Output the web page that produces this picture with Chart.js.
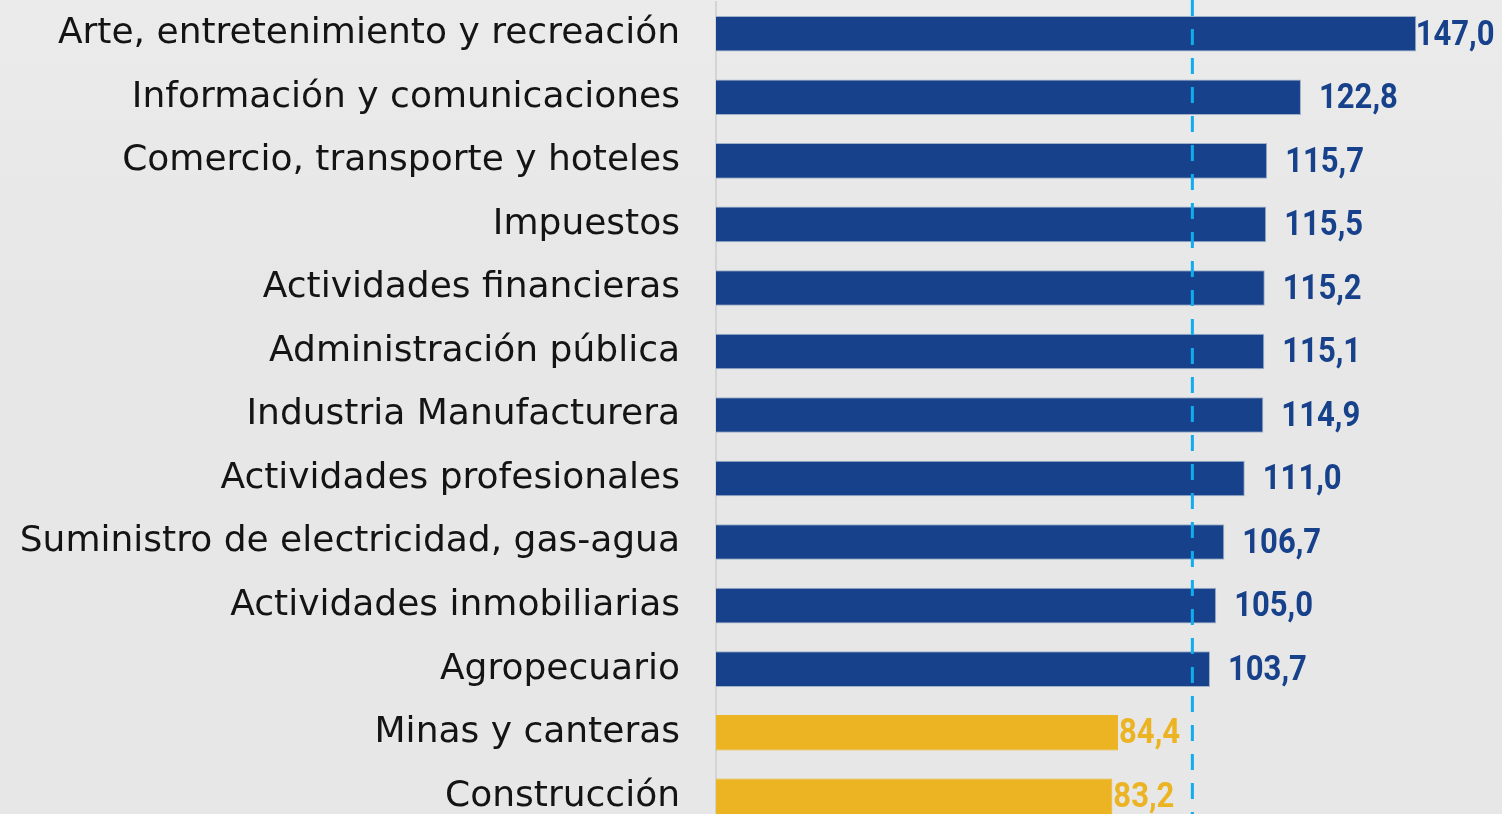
<!DOCTYPE html>
<html>
<head>
<meta charset="utf-8">
<script src="https://cdn.jsdelivr.net/npm/chart.js@4/dist/chart.umd.min.js"></script>
<style>
    html, body {
        margin: 0;
        padding: 0;
        width: 100%;
        height: 100%;
        overflow: hidden;
        background-color: #e7e7e7;
    }
    body {
        background: linear-gradient(to bottom, #ebebeb 0%, #e7e7e7 35%, #e7e7e7 100%);
    }
    .barChart {
        position: absolute;
        left: 0;
        top: 0;
        width: 1502px;
        height: 828px;
    }
</style>
</head>
<body>
<div class="barChart"><canvas id="chart"></canvas></div>
<script>
const sectors = [
    "Arte, entretenimiento y recreación",
    "Información y comunicaciones",
    "Comercio, transporte y hoteles",
    "Impuestos",
    "Actividades financieras",
    "Administración pública",
    "Industria Manufacturera",
    "Actividades profesionales",
    "Suministro de electricidad, gas-agua",
    "Actividades inmobiliarias",
    "Agropecuario",
    "Minas y canteras",
    "Construcción",
];
const values = [147.0, 122.8, 115.7, 115.5, 115.2, 115.1, 114.9, 111.0, 106.7, 105.0, 103.7, 84.4, 83.2];
const baseline = 100;

const blue = "#17418a";
const yellow = "#ecb322";

const colourFor = (v) => (v >= baseline ? blue : yellow);

// dashed line at 100 and the value labels
const overlay = {
    id: "overlay",
    afterDatasetsDraw(chart) {
        const ctx = chart.ctx;
        const x = chart.scales.x;
        const y = chart.scales.y;
        const area = chart.chartArea;

        ctx.save();
        ctx.strokeStyle = "#10acef";
        ctx.lineWidth = 3;
        ctx.setLineDash([16, 13]);
        const bx = x.getPixelForValue(baseline);
        ctx.beginPath();
        ctx.moveTo(bx, 0);
        ctx.lineTo(bx, area.bottom);
        ctx.stroke();
        ctx.restore();

        ctx.save();
        ctx.font = "bold 32px Roboto";
        ctx.textBaseline = "middle";
        ctx.textAlign = "left";
        values.forEach((v, i) => {
            const text = v.toFixed(1).replace(".", ",");
            const w = ctx.measureText(text).width;
            const end = x.getPixelForValue(v);
            let tx = end + (v >= baseline ? 18 : 1);
            if (tx + w > chart.width - 5) tx = chart.width - 5 - w;
            const ty = y.getPixelForValue(i) + 2;
            ctx.save();
            ctx.translate(tx, ty);
            ctx.scale(0.97, 1.1);
            ctx.fillStyle = colourFor(v);
            ctx.fillText(text, 0, 0);
            ctx.restore();
        });
        ctx.restore();
    },
};

new Chart(document.getElementById("chart"), {
    type: "bar",
    data: {
        labels: sectors,
        datasets: [
            {
                data: values,
                backgroundColor: values.map(colourFor),
                borderColor: values.map((v) => (v >= baseline ? "#9fb0c9" : yellow)),
                borderWidth: 1,
                borderSkipped: "start",
                barPercentage: 0.56,
                categoryPercentage: 1,
            },
        ],
    },
    options: {
        indexAxis: "y",
        responsive: true,
        maintainAspectRatio: false,
        animation: false,
        layout: {
            padding: { top: 2, right: 0, bottom: 0, left: 0 },
        },
        plugins: {
            legend: { display: false },
            tooltip: { enabled: false },
        },
        scales: {
            x: {
                display: false,
                min: 0,
                max: 165,
            },
            y: {
                afterFit: (scale) => {
                    scale.width = 716;
                    scale.paddingTop = 0;
                    scale.paddingBottom = 0;
                },
                grid: { display: false, drawTicks: false },
                border: { display: true, color: "#d4d4d4", width: 2 },
                ticks: {
                    padding: 36,
                    color: "#141414",
                    font: { family: "DejaVu Sans", size: 36 },
                },
            },
        },
    },
    plugins: [overlay],
});
</script>
</body>
</html>
